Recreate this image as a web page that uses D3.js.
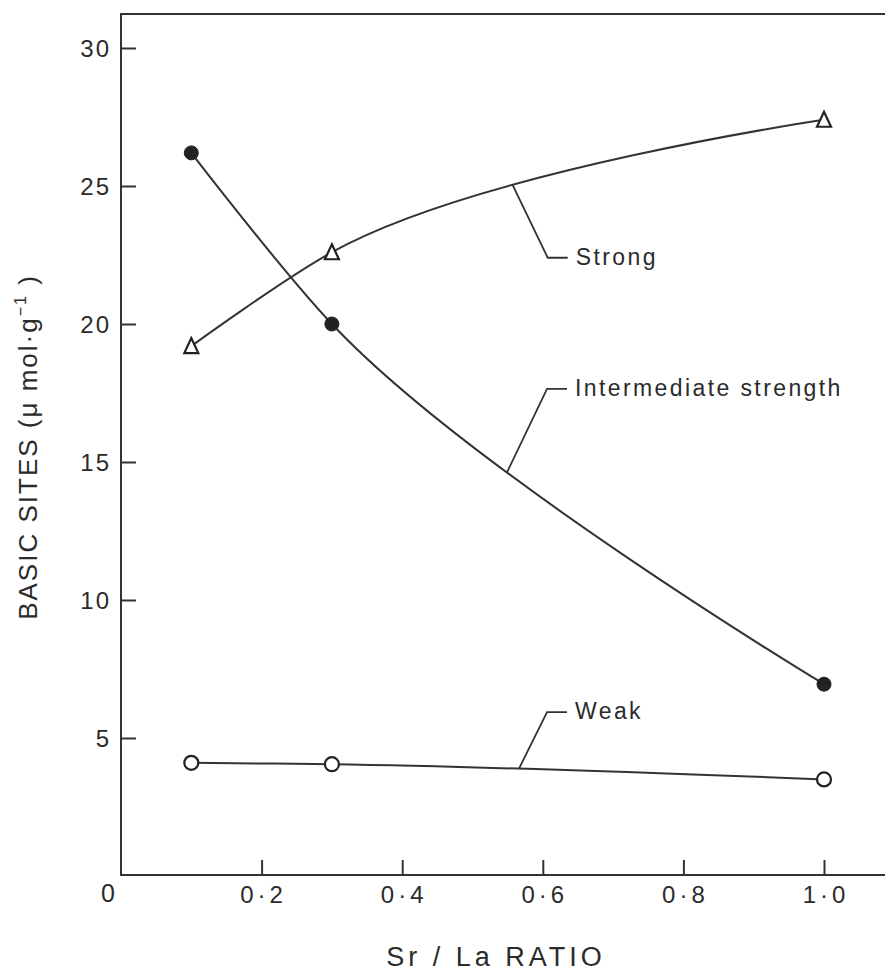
<!DOCTYPE html>
<html>
<head>
<meta charset="utf-8">
<script src="https://cdn.jsdelivr.net/npm/d3@7"></script>
<style>
  html, body { margin: 0; padding: 0; background: #fff; }
  svg { display: block; }
  text { font-family: "Liberation Sans", Arial, sans-serif; fill: #2b2b2b; }
</style>
</head>
<body>
<svg id="chart" width="885" height="972"></svg>
<script>
// Sr/La ratio of the catalyst samples
const ratios = [0.1, 0.3, 1.0];
// Basic site densities (µmol·g⁻¹) by strength
const strongSites = [19.2, 22.6, 27.4];
const intermediateSites = [26.2, 20.0, 6.95];
const weakSites = [4.1, 4.05, 3.5];
// Axis ticks
const xTicks = [0.2, 0.4, 0.6, 0.8, 1.0];
const xTickLabels = ["0·2", "0·4", "0·6", "0·8", "1·0"];
const yTicks = [5, 10, 15, 20, 25, 30];
const seriesNames = ["Strong", "Intermediate strength", "Weak"];

const svg = d3.select("#chart");
const ink = "#333";

const plotLeft = 121, plotRight = 886, plotTop = 14, plotBottom = 875;
const x = d3.scaleLinear().domain([0, 1]).range([plotLeft, 824]);
const y = d3.scaleLinear().domain([0, 30]).range([876, 48]);

// Frame (left, top and bottom edges)
svg.append("path")
  .attr("d", `M${plotRight},${plotTop}H${plotLeft}V${plotBottom}H${plotRight}`)
  .attr("fill", "none").attr("stroke", ink).attr("stroke-width", 2);

// Y axis: ticks pointing into the plot
const yAxis = d3.axisRight(y).tickValues(yTicks).tickSize(15).tickFormat("");
const gy = svg.append("g").attr("transform", `translate(${plotLeft},0)`).call(yAxis);
gy.select(".domain").remove();
gy.selectAll(".tick line").attr("stroke", ink).attr("stroke-width", 2);

svg.append("g").selectAll("text").data(yTicks).join("text")
  .attr("x", 111).attr("y", d => y(d)).attr("dy", "0.36em")
  .attr("text-anchor", "end").attr("font-size", 24).attr("letter-spacing", 2)
  .text(d => d);

// X axis: ticks pointing up into the plot
const xAxis = d3.axisTop(x).tickValues(xTicks).tickSize(15).tickFormat("");
const gx = svg.append("g").attr("transform", `translate(0,${plotBottom})`).call(xAxis);
gx.select(".domain").remove();
gx.selectAll(".tick line").attr("stroke", ink).attr("stroke-width", 2);

svg.append("g").selectAll("text").data(xTicks).join("text")
  .attr("x", d => x(d) + 2).attr("y", 903)
  .attr("text-anchor", "middle").attr("font-size", 24).attr("letter-spacing", 4)
  .text((d, i) => xTickLabels[i]);

// Origin label
svg.append("text").attr("x", 108).attr("y", 902)
  .attr("text-anchor", "middle").attr("font-size", 25).text("0");

// Axis titles
svg.append("text").attr("x", 496).attr("y", 966)
  .attr("text-anchor", "middle").attr("font-size", 27).attr("letter-spacing", 4)
  .text("Sr / La RATIO");

const yTitle = svg.append("text")
  .attr("transform", "translate(37,447) rotate(-90)")
  .attr("text-anchor", "middle").attr("font-size", 26).attr("letter-spacing", 2);
yTitle.append("tspan").text("BASIC SITES (μ mol·g");
yTitle.append("tspan").attr("font-size", 16).attr("dy", -11).text("−1");
yTitle.append("tspan").attr("dy", 11).text(" )");

// Smooth curves through the measured points
const series = [strongSites, intermediateSites, weakSites];
const line = d3.line().x((d, i) => x(ratios[i])).y(d => y(d))
  .curve(d3.curveCatmullRom.alpha(1));
const paths = series.map(vals =>
  svg.append("path").datum(vals).attr("d", line)
    .attr("fill", "none").attr("stroke", ink).attr("stroke-width", 2).node()
);

// Locate the point on a drawn curve at a given pixel x
function pointAtX(pathNode, px) {
  let lo = 0, hi = pathNode.getTotalLength();
  for (let k = 0; k < 40; k++) {
    const mid = (lo + hi) / 2;
    if (pathNode.getPointAtLength(mid).x < px) lo = mid; else hi = mid;
  }
  return pathNode.getPointAtLength((lo + hi) / 2);
}

// Leader lines and series labels
const labelSpecs = [
  { s: 0, attach: 0.557, elbowX: 0.607, elbowY: 22.4 },
  { s: 1, attach: 0.549, elbowX: 0.606, elbowY: 17.65 },
  { s: 2, attach: 0.566, elbowX: 0.606, elbowY: 5.94 }
];
labelSpecs.forEach(spec => {
  const p = pointAtX(paths[spec.s], x(spec.attach));
  const ex = x(spec.elbowX), ey = y(spec.elbowY);
  svg.append("path")
    .attr("d", `M${p.x},${p.y}L${ex},${ey}H${ex + 20}`)
    .attr("fill", "none").attr("stroke", ink).attr("stroke-width", 1.8);
  svg.append("text").attr("x", ex + 28).attr("y", ey + 7)
    .attr("font-size", 23).attr("letter-spacing", 2.4)
    .text(seriesNames[spec.s]);
});

// Markers
const tri = "M0,-8L7,7L-7,7Z";
svg.append("g").selectAll("path").data(strongSites).join("path")
  .attr("d", tri)
  .attr("transform", (d, i) => `translate(${x(ratios[i])},${y(d)})`)
  .attr("fill", "#fff").attr("stroke", "#222").attr("stroke-width", 2.2);

svg.append("g").selectAll("circle").data(intermediateSites).join("circle")
  .attr("cx", (d, i) => x(ratios[i])).attr("cy", d => y(d)).attr("r", 7)
  .attr("fill", "#222").attr("stroke", "#222").attr("stroke-width", 1);

svg.append("g").selectAll("circle").data(weakSites).join("circle")
  .attr("cx", (d, i) => x(ratios[i])).attr("cy", d => y(d)).attr("r", 7)
  .attr("fill", "#fff").attr("stroke", "#222").attr("stroke-width", 2.2);
</script>
</body>
</html>
